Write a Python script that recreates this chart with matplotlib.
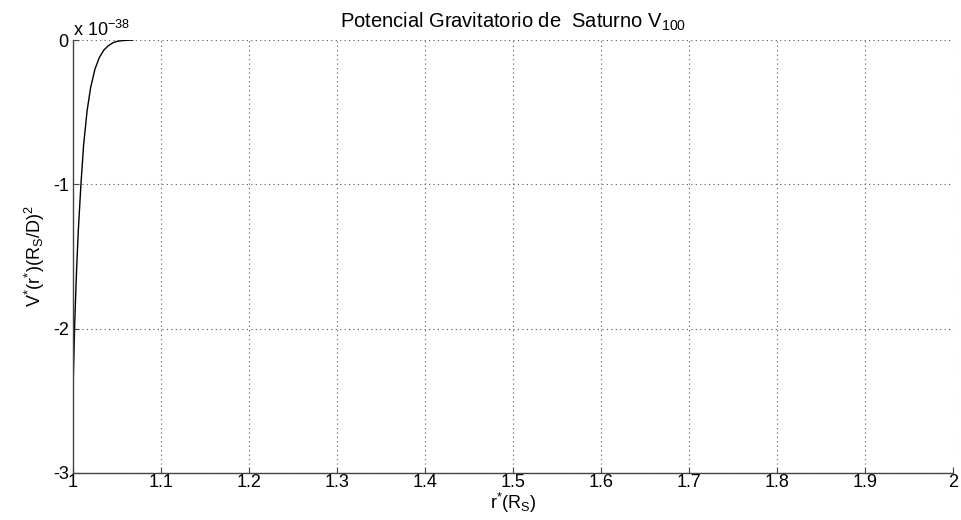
import numpy as np
import matplotlib.pyplot as plt

plt.rcParams['font.family'] = ['Liberation Sans', 'DejaVu Sans']
plt.rcParams['mathtext.fontset'] = 'custom'
plt.rcParams['mathtext.rm'] = 'Liberation Sans'
plt.rcParams['mathtext.it'] = 'Liberation Sans'
plt.rcParams['mathtext.default'] = 'rm'

# values (V in units of 1e-38)
r_vals = [1.000, 1.002, 1.004, 1.006, 1.009, 1.012, 1.016, 1.020, 1.025,
          1.030, 1.035, 1.040, 1.045, 1.050, 1.055, 1.060, 1.068]
v_vals = [-2.42, -1.95, -1.60, -1.32, -1.00, -0.73, -0.49, -0.33, -0.20,
          -0.12, -0.07, -0.04, -0.02, -0.009, -0.005, -0.002, 0.0]
x_ticks = [1, 1.1, 1.2, 1.3, 1.4, 1.5, 1.6, 1.7, 1.8, 1.9, 2]
x_labels = ['1', '1.1', '1.2', '1.3', '1.4', '1.5', '1.6', '1.7', '1.8', '1.9', '2']
y_ticks = [-3, -2, -1, 0]

fig = plt.figure(figsize=(9.62, 5.2), dpi=100)
ax = fig.add_axes([0.0759, 0.0904, 0.9148, 0.8326])

ax.plot(r_vals, v_vals, color='black', linewidth=1.0)

ax.set_xlim(1, 2)
ax.set_ylim(-3, 0)
ax.set_xticks(x_ticks)
ax.set_xticklabels(x_labels)
ax.set_yticks(y_ticks)
ax.set_yticklabels([str(t) for t in y_ticks])
ax.tick_params(direction='in', length=4, labelsize=13, width=0.8, color='#444444')
ax.tick_params(axis='x', pad=1)
ax.tick_params(axis='y', pad=3)

ax.grid(True, linestyle=(0, (1, 3)), color='#555555', linewidth=0.8)
for s in ['top', 'right']:
    ax.spines[s].set_visible(False)
for s in ['left', 'bottom']:
    ax.spines[s].set_color('#444444')
    ax.spines[s].set_linewidth(1.0)

ax.text(0.0, 1.0, r'x 10$^{-38}$', transform=ax.transAxes,
        fontsize=13, ha='left', va='bottom')
ax.set_title(r'Potencial Gravitatorio de  Saturno V$_{100}$', fontsize=14.5, pad=9)
ax.set_xlabel(r'r$^{*}$(R$_{S}$)', fontsize=13, labelpad=0)
ax.set_ylabel(r'V$^{*}$(r$^{*}$)(R$_{S}$/D)$^{2}$', fontsize=13, labelpad=4)

fig.savefig('out.png', dpi=100)
